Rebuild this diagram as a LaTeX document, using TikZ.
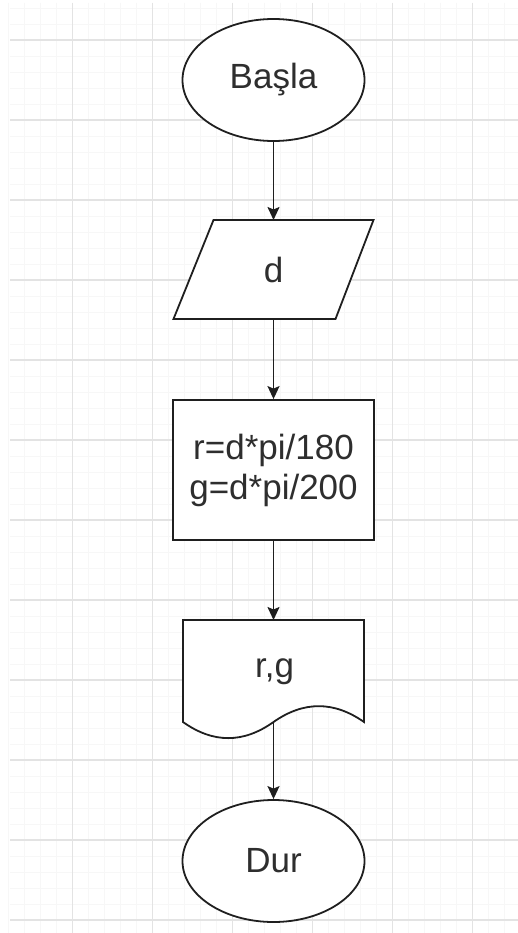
\documentclass[tikz,border=0pt]{standalone}
\usepackage{fontspec}
\setmainfont{Liberation Sans}
\usetikzlibrary{shapes.geometric,arrows.meta}
\begin{document}
\begin{tikzpicture}[x=1pt,y=-1pt,
  shapeline/.style={draw=black!88,line width=1.8pt},
  term/.style={shapeline,ellipse,minimum width=182pt,minimum height=122pt,inner sep=0pt,fill=white},
  holder/.style={inner sep=0pt,outer sep=0pt},
  lbl/.style={font=\fontsize{35}{40}\selectfont,text=black!82},
  arr/.style={draw=black!88,line width=1.8pt,-{Stealth[length=13pt,width=12pt,inset=2.5pt]}},
  minorgrid/.style={draw=black!3,line width=0.8pt},
  majorgrid/.style={draw=black!11,line width=1.2pt}]
\useasboundingbox (0,0) rectangle (518,933);
\fill[white] (0,0) rectangle (518,933);
% grid
\foreach \x in {8.5,24.5,...,518} {\draw[minorgrid] (\x,3) -- (\x,933);}
\foreach \y in {8,24,...,933} {\draw[minorgrid] (10,\y) -- (518,\y);}
\foreach \x in {72.5,152.5,...,518} {\draw[majorgrid] (\x,3) -- (\x,933);}
\foreach \y in {40,120,...,933} {\draw[majorgrid] (10,\y) -- (518,\y);}
% start
\node[term,lbl] (start) at (273.5,80) {Başla};
% input
\node[holder,minimum width=200pt,minimum height=99pt] (inp) at (273.5,269.5) {};
\draw[shapeline,fill=white,line join=miter] ([xshift=40pt]inp.north west) -- (inp.north east)
  -- ([xshift=-38pt]inp.south east) -- (inp.south west) -- cycle;
\node[lbl] (inptext) at (inp.center) {d};
% process
\node[shapeline,fill=white,minimum width=200.5pt,minimum height=140pt,inner sep=0pt,lbl,align=center] (proc) at (273.5,470) {r=d*pi/180\\g=d*pi/200};
% document (output)
\node[holder,minimum width=181pt,minimum height=120pt] (out) at (273.5,680) {};
\draw[shapeline,fill=white,line join=miter] (out.north west) -- (out.north east) -- (364,722)
  .. controls (333.83,700.87) and (303.67,700.87) .. (273.5,722)
  .. controls (243.33,743.47) and (213.17,743.47) .. (183,722) -- cycle;
\coordinate (outb) at (273.5,722);
\node[lbl,anchor=base] (outtext) at (274.5,677) {r,g};
% stop
\node[term,lbl] (stop) at (273.5,861) {Dur};
% connectors
\draw[arr] (start.south) -- (inp.north);
\draw[arr] (inp.south) -- (proc.north);
\draw[arr] (proc.south) -- (out.north);
\draw[arr] (outb) -- (stop.north);
\end{tikzpicture}
\end{document}
